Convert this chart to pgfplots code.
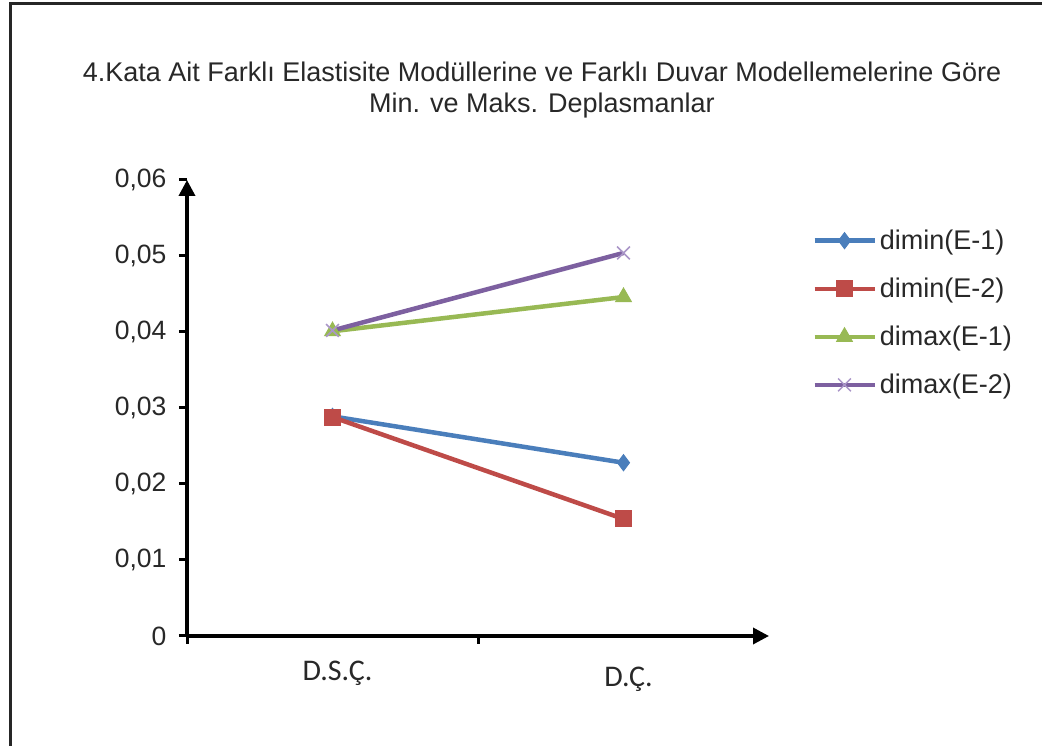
\documentclass[border=0pt]{standalone}
\usepackage{pgfplots}
\pgfplotsset{compat=1.18}
\usepackage{pgfplotstable}
\usepackage{fontspec}
\setmainfont{Liberation Sans}
\newfontfamily\carlito{Carlito}
\usetikzlibrary{arrows.meta}
\definecolor{cblue}{RGB}{74,126,187}
\definecolor{cred}{RGB}{190,75,72}
\definecolor{cgreen}{RGB}{152,185,84}
\definecolor{cpurple}{RGB}{125,96,160}
\definecolor{cpurplex}{RGB}{170,150,200}
\definecolor{txt}{RGB}{40,40,40}

\pgfplotstableread{
x dminA dminB dmaxA dmaxB
0 0.0289 0.0288 0.0401 0.0402
1 0.0228 0.0154 0.0446 0.0504
}\datatable

\begin{document}
\begin{tikzpicture}[x=1pt,y=1pt]
\useasboundingbox (0,0) rectangle (1042,746);
\fill[white] (0,0) rectangle (1042,746);
\draw[line width=3pt, black!85] (10,0) -- (10,742.5) -- (1042,742.5);
\node[font=\fontsize{27}{31}\selectfont, align=center, text=txt] at (542,656)
  {4.Kata Ait Farklı Elastisite Modüllerine ve Farklı Duvar Modellemelerine Göre\\Min. ve Maks. Deplasmanlar};
\begin{axis}[
  at={(187pt,110pt)}, anchor=south west,
  scale only axis, width=582pt, height=456pt,
  xmin=-0.5, xmax=1.5, ymin=0, ymax=0.06,
  axis lines=left,
  axis line style={line width=3.5pt, black, -{Triangle[length=16pt,width=16pt]}},
  tick align=outside,
  major tick length=8pt,
  tick style={line width=3pt, black},
  scaled y ticks=false,
  ytick={0,0.01,0.02,0.03,0.04,0.05,0.06},
  /pgf/number format/.cd, use comma, fixed, precision=2, assume math mode=true,
  /pgfplots/.cd,
  yticklabel style={font=\fontsize{26.5}{30}\selectfont, text=txt, xshift=-9pt},
  xtick={-0.5,0.5},
  xticklabels={{},{}},
  extra x ticks={0,1},
  extra x tick labels={D.S.Ç.,\raisebox{-6pt}[\height][\depth]{D.Ç.}},
  extra x tick style={major tick length=0pt,
     xticklabel style={font=\carlito\fontsize{30}{32}\selectfont, text=txt, yshift=-22pt, xshift=5pt}},
  clip=false,
  legend style={at={(1.074,0.897)}, anchor=north west, draw=none, fill=none,
     font=\fontsize{27}{30}\selectfont, text=txt, row sep=21pt,
     inner sep=0pt, nodes={inner sep=3pt}},
  legend cell align=left,
  legend image code/.code={\draw[mark repeat=2,mark phase=2,#1] plot coordinates {(0pt,0pt)(30pt,0pt)(60pt,0pt)};},
]
\addplot[color=cblue, line width=4.5pt, mark=diamond*, mark size=8pt, mark options={line width=1pt}] table[x=x,y=dminA] {\datatable};
\addlegendentry{dimin(E-1)}
\addplot[color=cred, line width=4.5pt, mark=square*, mark size=8pt, mark options={line width=1pt}] table[x=x,y=dminB] {\datatable};
\addlegendentry{dimin(E-2)}
\addplot[color=cgreen, line width=4.5pt, mark=triangle*, mark size=9pt, mark options={line width=1pt}] table[x=x,y=dmaxA] {\datatable};
\addlegendentry{dimax(E-1)}
\addplot[color=cpurple, line width=4.5pt, mark=x, mark size=9pt, mark options={line width=1.5pt, color=cpurplex}] table[x=x,y=dmaxB] {\datatable};
\addlegendentry{dimax(E-2)}
\end{axis}
\end{tikzpicture}
\end{document}
